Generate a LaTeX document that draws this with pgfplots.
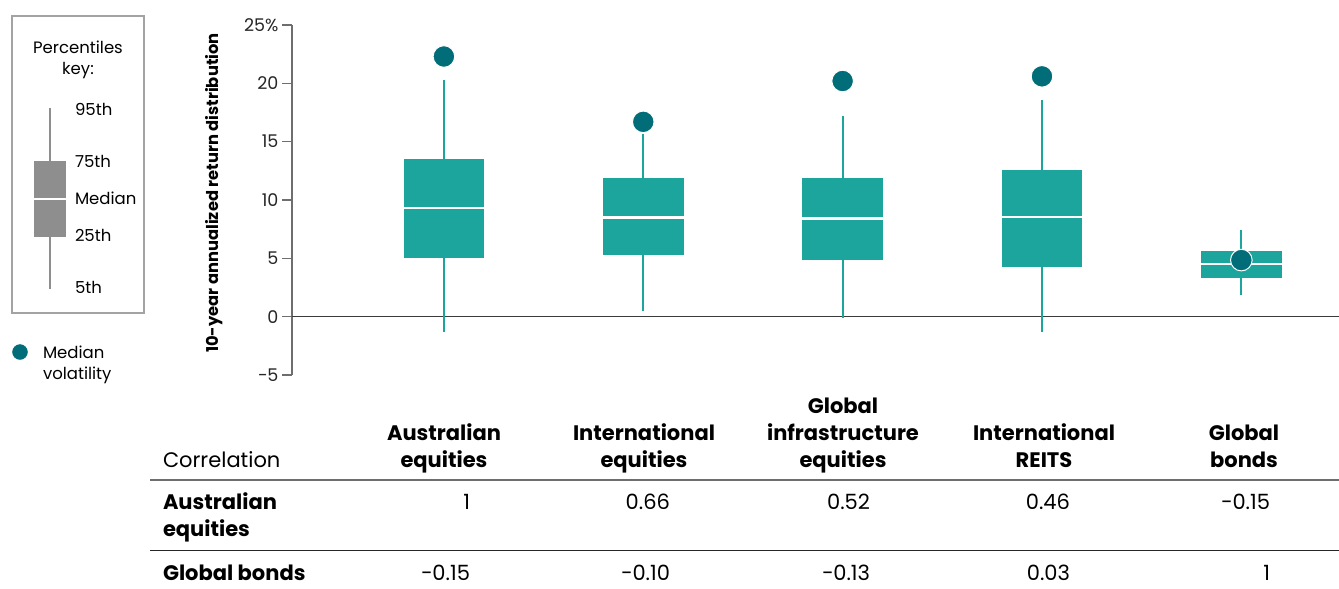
\documentclass[border=0pt]{standalone}
\usepackage{fontspec}
\setmainfont{Poppins}
\usepackage{pgfplots}
\pgfplotsset{compat=1.18}
\usepgfplotslibrary{statistics}

\definecolor{boxteal}{HTML}{1BA59C}
\definecolor{dotteal}{HTML}{006D79}
\definecolor{keygrey}{HTML}{8E8E8E}
\definecolor{framegrey}{HTML}{A3A3A3}
\definecolor{axisgrey}{HTML}{6E6E6E}
\definecolor{zerogrey}{HTML}{3A3A3A}

\newcommand\tabfont{\fontsize{21}{24}\selectfont}
\newcommand\keyfont{\fontsize{16.5}{20}\selectfont}

\begin{document}
\begin{tikzpicture}[txt/.style={inner sep=0pt, outer sep=0pt}]
\useasboundingbox (0pt,0pt) rectangle (1339pt,-589pt);

% ---------------- percentiles key ----------------
\begin{axis}[
  at={(0pt,0pt)}, anchor=north west,
  scale only axis, width=150pt, height=400pt,
  xmin=0, xmax=150, ymin=0, ymax=400, y dir=reverse,
  axis lines=none, clip=false,
  boxplot/draw direction=y,
  boxplot/box extend=32,
  boxplot/whisker extend=0,
  boxplot/every box/.style={draw=none, fill=keygrey},
  boxplot/every whisker/.style={draw=keygrey, line width=1.6pt},
  boxplot/every median/.style={draw=white, line width=2pt},
]
\draw[framegrey, line width=1.6pt] (axis cs:12,16) rectangle (axis cs:144,313);
\addplot[keygrey, boxplot prepared={lower whisker=108, lower quartile=161,
  median=199, upper quartile=237, upper whisker=289, draw position=50}]
  coordinates {};
\addplot[only marks, mark=*, mark size=7.5pt, dotteal] coordinates {(20,352)};
\end{axis}

\begin{scope}[font=\keyfont, every node/.style={txt}]
\node[anchor=base] at (78pt,-53pt) {Percentiles};
\node[anchor=base] at (78pt,-74pt) {key:};
\node[anchor=base west] at (75pt,-115pt) {95th};
\node[anchor=base west] at (75pt,-167pt) {75th};
\node[anchor=base west] at (75pt,-204pt) {Median};
\node[anchor=base west] at (75pt,-241pt) {25th};
\node[anchor=base west] at (75pt,-293pt) {5th};
\node[anchor=base west] at (43pt,-358pt) {Median};
\node[anchor=base west] at (43pt,-379pt) {volatility};
\end{scope}

% ---------------- return distributions ----------------
\begin{axis}[
  at={(292pt,-375pt)}, anchor=south west,
  scale only axis, width=1047pt, height=350pt,
  xmin=-0.762, xmax=4.49, ymin=-5, ymax=25,
  axis x line=none, axis y line*=left,
  y axis line style={draw=axisgrey, line width=1.3pt},
  ytick={-5,0,5,10,15,20,25},
  yticklabels={−5,0,5,10,15,20,25\%},
  tick align=outside, major tick length=10pt,
  ytick style={draw=axisgrey, line width=1.3pt},
  yticklabel style={font=\fontsize{17.5}{17.5}\selectfont, text=black!85},
  clip=false,
  boxplot/draw direction=y,
  boxplot/box extend=0.405,
  boxplot/whisker extend=0,
  boxplot/every box/.style={draw=none, fill=boxteal},
  boxplot/every whisker/.style={draw=boxteal, line width=2pt},
  boxplot/every median/.style={draw=white, line width=2.6pt},
]
\draw[zerogrey, line width=1.6pt] (axis cs:-0.762,0) -- (axis cs:4.49,0);

% Australian equities
\addplot[boxteal, boxplot prepared={lower whisker=-1.3, lower quartile=5.0,
  median=9.3, upper quartile=13.5, upper whisker=20.3, draw position=0}]
  coordinates {};
% International equities
\addplot[boxteal, boxplot prepared={lower whisker=0.5, lower quartile=5.25,
  median=8.5, upper quartile=11.9, upper whisker=15.7, draw position=1}]
  coordinates {};
% Global infrastructure equities
\addplot[boxteal, boxplot prepared={lower whisker=-0.1, lower quartile=4.9,
  median=8.4, upper quartile=11.9, upper whisker=17.2, draw position=2}]
  coordinates {};
% International REITS
\addplot[boxteal, boxplot prepared={lower whisker=-1.3, lower quartile=4.3,
  median=8.55, upper quartile=12.6, upper whisker=18.6, draw position=3}]
  coordinates {};
% Global bonds
\addplot[boxteal, boxplot prepared={lower whisker=1.9, lower quartile=3.35,
  median=4.5, upper quartile=5.65, upper whisker=7.45, draw position=4}]
  coordinates {};

% median volatility
\addplot[only marks, mark=*, mark size=10.8pt,
  mark options={fill=dotteal, draw=white, line width=1pt}]
  coordinates {(0,22.3) (1,16.7) (2,20.2) (3,20.6) (4,4.85)};
\end{axis}

\node[txt, rotate=90, font=\bfseries\fontsize{16.3}{16.3}\selectfont]
  at (214pt,-193pt) {10-year annualized return distribution};

% ---------------- correlation table ----------------
\begin{scope}[font=\tabfont, every node/.style={txt}]
\node[anchor=base west] at (163pt,-467pt) {Correlation};
\begin{scope}[font=\tabfont\bfseries]
\node[anchor=base] at (444pt,-440pt) {Australian};
\node[anchor=base] at (444pt,-467pt) {equities};
\node[anchor=base] at (644pt,-440pt) {International};
\node[anchor=base] at (644pt,-467pt) {equities};
\node[anchor=base] at (843pt,-413pt) {Global};
\node[anchor=base] at (843pt,-440pt) {infrastructure};
\node[anchor=base] at (843pt,-467pt) {equities};
\node[anchor=base] at (1044pt,-440pt) {International};
\node[anchor=base] at (1044pt,-467pt) {REITS};
\node[anchor=base] at (1244pt,-440pt) {Global};
\node[anchor=base] at (1244pt,-467pt) {bonds};
\node[anchor=base west] at (163pt,-509pt) {Australian};
\node[anchor=base west] at (163pt,-536pt) {equities};
\node[anchor=base west] at (163pt,-580pt) {Global bonds};
\end{scope}
\draw[axisgrey, line width=1.5pt] (150pt,-480pt) -- (1339pt,-480pt);
\draw[black!85, line width=1.5pt] (150pt,-550.5pt) -- (1339pt,-550.5pt);
\node[anchor=base east] at (470pt,-509pt) {1};
\node[anchor=base east] at (670pt,-509pt) {0.66};
\node[anchor=base east] at (870pt,-509pt) {0.52};
\node[anchor=base east] at (1070pt,-509pt) {0.46};
\node[anchor=base east] at (1270pt,-509pt) {−0.15};
\node[anchor=base east] at (470pt,-580pt) {−0.15};
\node[anchor=base east] at (670pt,-580pt) {−0.10};
\node[anchor=base east] at (870pt,-580pt) {−0.13};
\node[anchor=base east] at (1070pt,-580pt) {0.03};
\node[anchor=base east] at (1270pt,-580pt) {1};
\end{scope}
\end{tikzpicture}
\end{document}
